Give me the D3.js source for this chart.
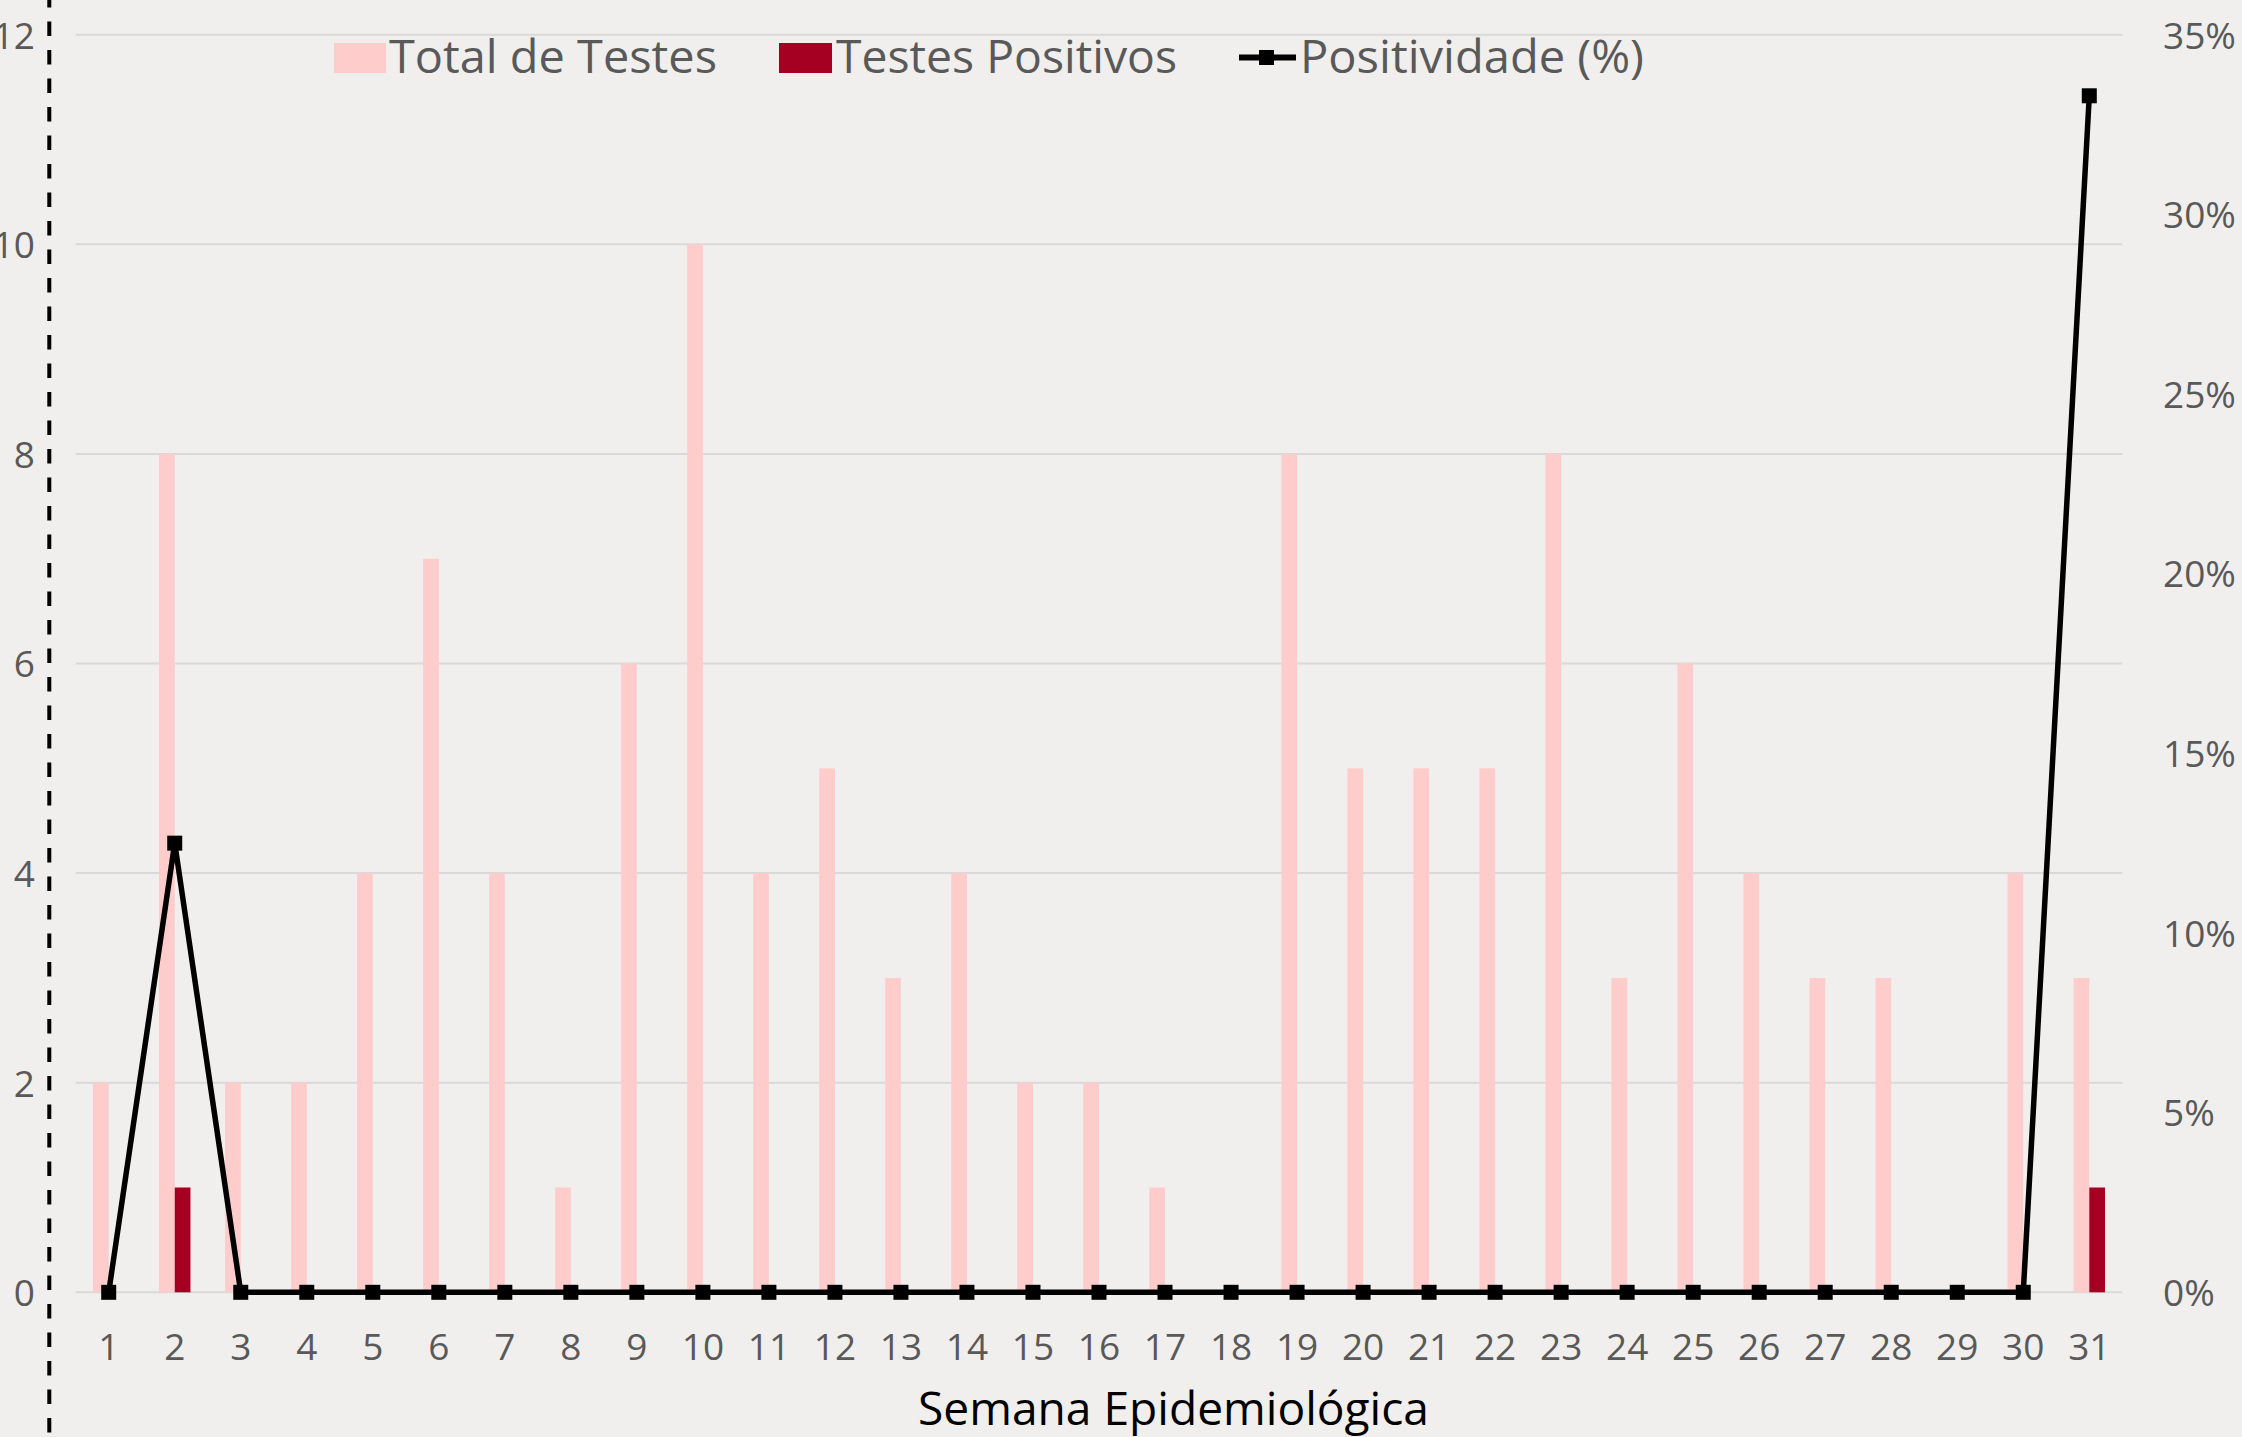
<!DOCTYPE html>
<html>
<head>
<meta charset="utf-8">
<script src="https://cdn.jsdelivr.net/npm/d3@7"></script>
<style>
  html, body { margin: 0; padding: 0; background: #f0efed; }
  svg { display: block; }
</style>
</head>
<body>
<svg width="2242" height="1437"></svg>
<script>
// dados
const semanas = ['1','2','3','4','5','6','7','8','9','10','11','12','13','14','15','16',
                 '17','18','19','20','21','22','23','24','25','26','27','28','29','30','31'];
const totalTestes = [2, 8, 2, 2, 4, 7, 4, 1, 6, 10, 4, 5, 3, 4, 2, 2,
                     1, 0, 8, 5, 5, 5, 8, 3, 6, 4, 3, 3, 0, 4, 3];
const testesPositivos = [0, 1, 0, 0, 0, 0, 0, 0, 0, 0, 0, 0, 0, 0, 0, 0,
                         0, 0, 0, 0, 0, 0, 0, 0, 0, 0, 0, 0, 0, 0, 1];
const positividade = [0, 12.5, 0, 0, 0, 0, 0, 0, 0, 0, 0, 0, 0, 0, 0, 0,
                      0, 0, 0, 0, 0, 0, 0, 0, 0, 0, 0, 0, 0, 0, 33.3];
const ticksEsq = [0, 2, 4, 6, 8, 10, 12];
const ticksDir = [0, 5, 10, 15, 20, 25, 30, 35];
const legenda = ['Total de Testes', 'Testes Positivos', 'Positividade (%)'];

const svg = d3.select('svg');
const width = +svg.attr('width');
const height = +svg.attr('height');

const corFundo = '#f0efed';
const corTotal = '#ffcccc';
const corPos = '#a50021';
const corTexto = '#595959';
const fonte = '"Open Sans", "Noto Sans", sans-serif';

svg.append('rect').attr('width', width).attr('height', height).attr('fill', corFundo);

const plotLeft = 75.7;
const plotRight = 2122.3;
const plotTop = 34.7;
const plotBottom = 1292.3;

const x = d3.scaleBand().domain(semanas).range([plotLeft, plotRight]).padding(0);
const xSub = d3.scaleBand().domain(['total', 'pos'])
               .range([0, x.bandwidth()]).paddingInner(0).paddingOuter(1.1);
const yEsq = d3.scaleLinear().domain([0, 12]).range([plotBottom, plotTop]);
const yDir = d3.scaleLinear().domain([0, 35]).range([plotBottom, plotTop]);

// linhas de grade
svg.append('g')
   .selectAll('line')
   .data(ticksEsq)
   .join('line')
   .attr('x1', plotLeft).attr('x2', plotRight)
   .attr('y1', d => yEsq(d)).attr('y2', d => yEsq(d))
   .attr('stroke', '#d9d9d9')
   .attr('stroke-width', 2);

// eixo esquerdo
const eixoEsq = svg.append('g')
   .attr('transform', `translate(35,0)`)
   .call(d3.axisLeft(yEsq).tickValues(ticksEsq).tickSize(0).tickPadding(0));
eixoEsq.select('.domain').remove();
eixoEsq.selectAll('text')
   .attr('font-family', fonte).attr('font-size', 37).attr('fill', corTexto)
   .attr('dy', '0.36em');

// eixo direito
const eixoDir = svg.append('g')
   .attr('transform', `translate(2163,0)`)
   .call(d3.axisRight(yDir).tickValues(ticksDir).tickSize(0).tickPadding(0)
           .tickFormat(d => d + '%'));
eixoDir.select('.domain').remove();
eixoDir.selectAll('text')
   .attr('font-family', fonte).attr('font-size', 37).attr('fill', corTexto)
   .attr('dy', '0.36em');

// eixo x
const eixoX = svg.append('g')
   .attr('transform', `translate(0,${plotBottom})`)
   .call(d3.axisBottom(x).tickSize(0).tickPadding(0));
eixoX.select('.domain').remove();
eixoX.selectAll('text')
   .attr('font-family', fonte).attr('font-size', 37).attr('fill', corTexto)
   .attr('y', 68).attr('dy', 0);

// barras
svg.append('g')
   .selectAll('rect')
   .data(semanas)
   .join('rect')
   .attr('x', (d) => x(d) + xSub('total'))
   .attr('y', (d, i) => yEsq(totalTestes[i]))
   .attr('width', xSub.bandwidth())
   .attr('height', (d, i) => yEsq(0) - yEsq(totalTestes[i]))
   .attr('fill', corTotal);

svg.append('g')
   .selectAll('rect')
   .data(semanas)
   .join('rect')
   .attr('x', (d) => x(d) + xSub('pos'))
   .attr('y', (d, i) => yEsq(testesPositivos[i]))
   .attr('width', xSub.bandwidth())
   .attr('height', (d, i) => yEsq(0) - yEsq(testesPositivos[i]))
   .attr('fill', corPos);

// linha de positividade
const pontos = semanas.map((s, i) => ({x: x(s) + x.bandwidth() / 2, y: yDir(positividade[i])}));
const linha = d3.line().x(d => d.x).y(d => d.y);

svg.append('path')
   .attr('d', linha(pontos))
   .attr('fill', 'none')
   .attr('stroke', '#000')
   .attr('stroke-width', 5.5)
   .attr('stroke-linejoin', 'round');

svg.append('g')
   .selectAll('rect')
   .data(pontos)
   .join('rect')
   .attr('x', d => d.x - 7.5)
   .attr('y', d => d.y - 7.5)
   .attr('width', 15)
   .attr('height', 15)
   .attr('fill', '#000');

// linha tracejada
svg.append('line')
   .attr('x1', 49.3).attr('x2', 49.3)
   .attr('y1', 0).attr('y2', height)
   .attr('stroke', '#000')
   .attr('stroke-width', 4)
   .attr('stroke-dasharray', '14.5 14')
   .attr('stroke-dashoffset', 7);

// legenda
const leg = svg.append('g');
leg.append('rect').attr('x', 334).attr('y', 43).attr('width', 52).attr('height', 30).attr('fill', corTotal);
leg.append('rect').attr('x', 779).attr('y', 43).attr('width', 53).attr('height', 30).attr('fill', corPos);
leg.append('line').attr('x1', 1239).attr('x2', 1296).attr('y1', 57.5).attr('y2', 57.5)
   .attr('stroke', '#000').attr('stroke-width', 6);
leg.append('rect').attr('x', 1259).attr('y', 50).attr('width', 15).attr('height', 15).attr('fill', '#000');

const legPos = [{x: 389, w: 328}, {x: 836, w: 341}, {x: 1300, w: 344}];
leg.selectAll('text')
   .data(legenda)
   .join('text')
   .attr('x', (d, i) => legPos[i].x)
   .attr('y', 72.7)
   .attr('textLength', (d, i) => legPos[i].w)
   .attr('lengthAdjust', 'spacingAndGlyphs')
   .attr('font-family', fonte)
   .attr('font-size', 46)
   .attr('fill', corTexto)
   .text(d => d);

// título do eixo x
svg.append('text')
   .attr('x', 918)
   .attr('y', 1425)
   .attr('textLength', 511)
   .attr('lengthAdjust', 'spacingAndGlyphs')
   .attr('font-family', fonte)
   .attr('font-size', 46)
   .attr('fill', '#000')
   .text('Semana Epidemiológica');
</script>
</body>
</html>
